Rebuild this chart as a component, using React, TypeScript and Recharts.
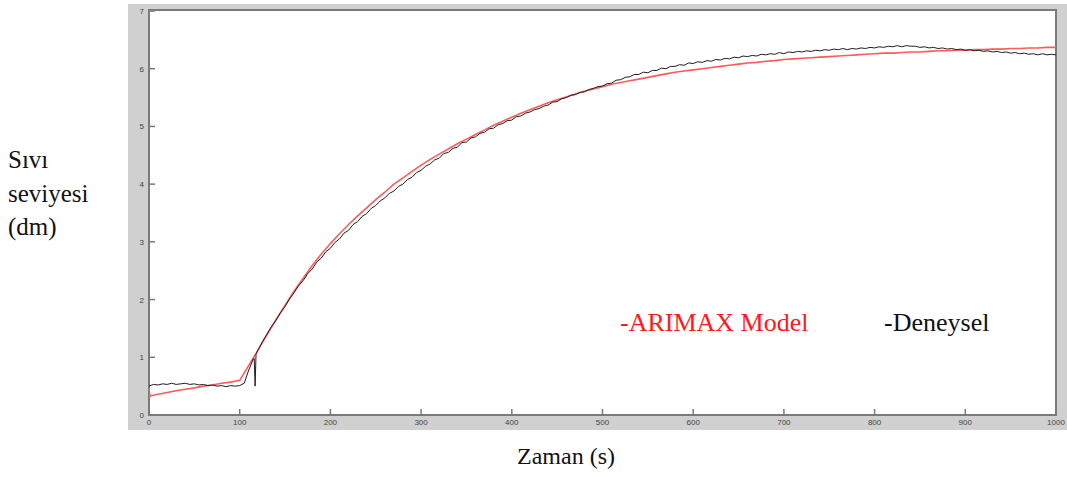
import React from 'react';
import { LineChart, Line, XAxis, YAxis } from 'recharts';

// x ticks (s) and y ticks (dm)
const xTicks = [0, 100, 200, 300, 400, 500, 600, 700, 800, 900, 1000];
const yTicks = [0, 1, 2, 3, 4, 5, 6, 7];

// ARIMAX model output [t, level]
const arimaxModel: [number, number][] = [
  [0, 0.46], [1, 0.33], [10, 0.36], [20, 0.39], [30, 0.42], [40, 0.445], [50, 0.47],
  [60, 0.5], [70, 0.52], [80, 0.55], [90, 0.57], [100, 0.6],
  [110, 0.86], [120, 1.12], [130, 1.39], [140, 1.65], [150, 1.9], [160, 2.15],
  [170, 2.37], [180, 2.59], [190, 2.79], [200, 2.97], [210, 3.14], [220, 3.3],
  [230, 3.45], [240, 3.59], [250, 3.73], [260, 3.86], [270, 4.0], [280, 4.11],
  [290, 4.22], [300, 4.33], [310, 4.43], [320, 4.52], [330, 4.61], [340, 4.7],
  [350, 4.78], [360, 4.86], [370, 4.94], [380, 5.02], [390, 5.09], [400, 5.16],
  [410, 5.23], [420, 5.29], [430, 5.35], [440, 5.41], [450, 5.46], [460, 5.51],
  [470, 5.56], [480, 5.61], [490, 5.65], [500, 5.69], [510, 5.73], [520, 5.76],
  [530, 5.79], [540, 5.82], [550, 5.85], [560, 5.88], [570, 5.91], [580, 5.94],
  [590, 5.96], [600, 5.98], [610, 6.0], [620, 6.02], [630, 6.04], [640, 6.06],
  [650, 6.08], [660, 6.1], [670, 6.11], [680, 6.13], [690, 6.14], [700, 6.16],
  [710, 6.17], [720, 6.18], [730, 6.19], [740, 6.2], [750, 6.21], [760, 6.22],
  [770, 6.23], [780, 6.24], [790, 6.25], [800, 6.26], [810, 6.27], [820, 6.27],
  [830, 6.28], [840, 6.29], [850, 6.29], [860, 6.3], [870, 6.31], [880, 6.31],
  [890, 6.32], [900, 6.32], [910, 6.33], [920, 6.33], [930, 6.34], [940, 6.34],
  [950, 6.35], [960, 6.35], [970, 6.36], [980, 6.36], [990, 6.37], [1000, 6.37],
];

// measured level [t, level]
const deneysel: [number, number][] = [
  [0, 0.5], [5, 0.53], [10, 0.52], [15, 0.54], [20, 0.53], [25, 0.55], [30, 0.53],
  [35, 0.54], [40, 0.55], [45, 0.53], [50, 0.54], [55, 0.52], [60, 0.53], [65, 0.51],
  [70, 0.52], [75, 0.5], [80, 0.51], [85, 0.49], [90, 0.51], [95, 0.5], [100, 0.51],
  [105, 0.55], [110, 0.78], [115, 0.97], [116, 0.98], [117, 0.5], [118, 1.05],
  [120, 1.12], [125, 1.27], [130, 1.4], [135, 1.53], [140, 1.64], [145, 1.77],
  [150, 1.88], [155, 2.01], [160, 2.12], [165, 2.24], [170, 2.33], [175, 2.45],
  [180, 2.53], [185, 2.65], [190, 2.72], [195, 2.83], [200, 2.89], [205, 2.99],
  [210, 3.05], [215, 3.15], [220, 3.2], [225, 3.3], [230, 3.35], [235, 3.44],
  [240, 3.49], [245, 3.58], [250, 3.63], [255, 3.71], [260, 3.76], [265, 3.84],
  [270, 3.88], [275, 3.96], [280, 4.0], [285, 4.08], [290, 4.12], [295, 4.2],
  [300, 4.24], [305, 4.31], [310, 4.35], [315, 4.42], [320, 4.45], [325, 4.53],
  [330, 4.55], [335, 4.62], [340, 4.64], [345, 4.72], [350, 4.73], [355, 4.8],
  [360, 4.82], [365, 4.88], [370, 4.9], [375, 4.96], [380, 4.97], [385, 5.03],
  [390, 5.05], [395, 5.1], [400, 5.11], [405, 5.17], [410, 5.18], [415, 5.23],
  [420, 5.25], [425, 5.29], [430, 5.31], [435, 5.35], [440, 5.37], [445, 5.42],
  [450, 5.43], [455, 5.48], [460, 5.5], [465, 5.54], [470, 5.55], [475, 5.59],
  [480, 5.6], [485, 5.64], [490, 5.66], [495, 5.69], [500, 5.7], [505, 5.74],
  [510, 5.75], [515, 5.8], [520, 5.81], [525, 5.85], [530, 5.86], [535, 5.9],
  [540, 5.9], [545, 5.94], [550, 5.93], [555, 5.97], [560, 5.97], [565, 6.01],
  [570, 6.0], [575, 6.04], [580, 6.04], [585, 6.07], [590, 6.06], [595, 6.1],
  [600, 6.09], [605, 6.12], [610, 6.11], [615, 6.14], [620, 6.13], [625, 6.16],
  [630, 6.15], [635, 6.18], [640, 6.17], [645, 6.2], [650, 6.19], [655, 6.22],
  [660, 6.21], [665, 6.23], [670, 6.22], [675, 6.25], [680, 6.24], [685, 6.26],
  [690, 6.25], [695, 6.28], [700, 6.26], [705, 6.29], [710, 6.28], [715, 6.3],
  [720, 6.29], [725, 6.31], [730, 6.3], [735, 6.32], [740, 6.31], [745, 6.33],
  [750, 6.32], [755, 6.34], [760, 6.33], [765, 6.35], [770, 6.33], [775, 6.35],
  [780, 6.34], [785, 6.36], [790, 6.35], [795, 6.37], [800, 6.36], [805, 6.38],
  [810, 6.37], [815, 6.39], [820, 6.38], [825, 6.4], [830, 6.38], [835, 6.4],
  [840, 6.39], [845, 6.39], [850, 6.37], [855, 6.38], [860, 6.36], [865, 6.37],
  [870, 6.35], [875, 6.36], [880, 6.34], [885, 6.35], [890, 6.33], [895, 6.34],
  [900, 6.32], [905, 6.33], [910, 6.31], [915, 6.32], [920, 6.3], [925, 6.31],
  [930, 6.29], [935, 6.3], [940, 6.28], [945, 6.29], [950, 6.27], [955, 6.28],
  [960, 6.26], [965, 6.27], [970, 6.25], [975, 6.26], [980, 6.24], [985, 6.26],
  [990, 6.24], [995, 6.25], [1000, 6.24],
];

const modelData = arimaxModel.map(([t, v]) => ({ t, v }));
const measuredData = deneysel.map(([t, v]) => ({ t, v }));

const axisColor = '#7a7a7a';
const labelStyle = { fontSize: 8, fill: '#444', fontFamily: 'Liberation Sans, Arial, sans-serif' };
const serif = '"Liberation Serif", "Times New Roman", Tinos, "DejaVu Serif", serif';

// MATLAB-like inward ticks: the tick mark is drawn from the tick position given by Recharts
const BottomTick = (props: any) => {
  const { x, y, payload } = props;
  return (
    <g>
      <line x1={x} y1={y - 4} x2={x} y2={y - 10} stroke={axisColor} strokeWidth={1.5} />
      <text x={x} y={y + 6} textAnchor="middle" {...labelStyle}>{payload.value}</text>
    </g>
  );
};
const TopTick = (props: any) => {
  const { x, y } = props;
  return <line x1={x} y1={y} x2={x} y2={y + 6} stroke={axisColor} strokeWidth={1.5} />;
};
const LeftTick = (props: any) => {
  const { x, y, payload } = props;
  return (
    <g>
      <line x1={x + 4} y1={y} x2={x + 10} y2={y} stroke={axisColor} strokeWidth={1.5} />
      <text x={x - 1} y={y + 3} textAnchor="end" {...labelStyle}>{payload.value}</text>
    </g>
  );
};
const RightTick = (props: any) => {
  const { x, y } = props;
  return <line x1={x} y1={y} x2={x - 6} y2={y} stroke={axisColor} strokeWidth={1.5} />;
};

export default function App() {
  return (
    <div style={{ position: 'absolute', left: 0, top: 0, width: 1067, height: 477, background: '#fff', fontFamily: serif }}>
      <div style={{ position: 'absolute', left: 128, top: 4, width: 939, height: 426, background: '#d0d0d0' }} />
      <div style={{
        position: 'absolute', left: 148, top: 9, width: 909, height: 407, background: '#fff',
        border: `2px solid ${axisColor}`, boxSizing: 'border-box',
      }} />
      <div style={{ position: 'absolute', left: 0, top: 0 }}>
        <LineChart width={1067} height={432} margin={{ top: 10, right: 10, bottom: 2, left: 129 }}>
          <XAxis xAxisId="bottom" dataKey="t" type="number" domain={[0, 1000]} ticks={xTicks}
            height={15} tickSize={0} tickMargin={4} interval={0} axisLine={false} tickLine={false}
            tick={<BottomTick />} allowDataOverflow />
          <XAxis xAxisId="top" orientation="top" dataKey="t" type="number" domain={[0, 1000]} ticks={xTicks}
            height={1} tickSize={0} tickMargin={0} interval={0} axisLine={false} tickLine={false}
            tick={<TopTick />} />
          <YAxis yAxisId="left" type="number" domain={[0, 7]} ticks={yTicks}
            width={20} tickSize={0} tickMargin={4} interval={0} axisLine={false} tickLine={false}
            tick={<LeftTick />} />
          <YAxis yAxisId="right" orientation="right" type="number" domain={[0, 7]} ticks={yTicks}
            width={1} tickSize={0} tickMargin={0} interval={0} axisLine={false} tickLine={false}
            tick={<RightTick />} />
          <Line xAxisId="bottom" yAxisId="left" data={modelData} dataKey="v" type="linear"
            stroke="#ff5a5a" strokeWidth={1.6} dot={false} isAnimationActive={false} />
          <Line xAxisId="bottom" yAxisId="left" data={measuredData} dataKey="v" type="linear"
            stroke="#1e1e1e" strokeWidth={1} dot={false} isAnimationActive={false} />
        </LineChart>
      </div>
      <div style={{ position: 'absolute', left: 8, top: 143, fontSize: 25, lineHeight: '33.5px', color: '#111' }}>
        <div>Sıvı</div>
        <div>seviyesi</div>
        <div>(dm)</div>
      </div>
      <div style={{ position: 'absolute', left: 517, top: 443, fontSize: 24, color: '#111', whiteSpace: 'nowrap' }}>
        Zaman (s)
      </div>
      <div style={{ position: 'absolute', left: 620, top: 308, fontSize: 26, color: '#ff1a1a', whiteSpace: 'nowrap' }}>
        -ARIMAX Model
      </div>
      <div style={{ position: 'absolute', left: 884, top: 308, fontSize: 26, color: '#111', whiteSpace: 'nowrap' }}>
        -Deneysel
      </div>
    </div>
  );
}
